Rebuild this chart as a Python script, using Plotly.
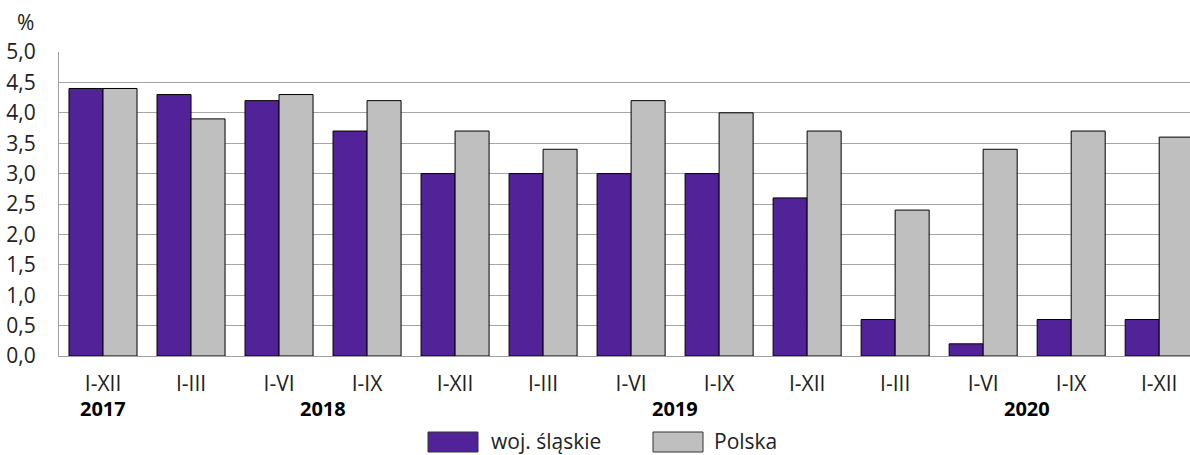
import plotly.graph_objects as go

periods = ["I-XII", "I-III", "I-VI", "I-IX", "I-XII", "I-III", "I-VI", "I-IX",
           "I-XII", "I-III", "I-VI", "I-IX", "I-XII"]
years = ["2017", "2018", "2019", "2020"]
year_pos = [0, 2.5, 6.5, 10.5]
slaskie = [4.4, 4.3, 4.2, 3.7, 3.0, 3.0, 3.0, 3.0, 2.6, 0.6, 0.2, 0.6, 0.6]
polska = [4.4, 3.9, 4.3, 4.2, 3.7, 3.4, 4.2, 4.0, 3.7, 2.4, 3.4, 3.7, 3.6]
series_names = ["woj. śląskie", "Polska"]
y_ticks = [0, 0.5, 1, 1.5, 2, 2.5, 3, 3.5, 4, 4.5, 5]

PURPLE = "#522398"
GRAY = "#bfbfbf"
FONT = "Open Sans"
FS = 21
x = list(range(len(periods)))

fig = go.Figure()
fig.add_trace(go.Bar(x=x, y=slaskie, name=series_names[0], marker=dict(color=PURPLE, line=dict(color="#000000", width=1))))
fig.add_trace(go.Bar(x=x, y=polska, name=series_names[1], marker=dict(color=GRAY, line=dict(color="#000000", width=1))))

W, H = 1190, 455
L, R, T, B = 59, 0, 52, 99
pw, ph = W - L - R, H - T - B

def px_x(p):
    return (p - L) / pw

def px_y(p):
    return (H - B - p) / ph

annotations = []
for yr, pos in zip(years, year_pos):
    annotations.append(dict(x=pos, y=px_y(408), xref="x", yref="paper", text="<b>%s</b>" % yr,
                            showarrow=False, xanchor="center", yanchor="middle",
                            font=dict(family=FONT, size=20, color="#000000")))
annotations.append(dict(x=px_x(25), y=px_y(22), xref="paper", yref="paper", text="%",
                        showarrow=False, xanchor="center", yanchor="middle",
                        font=dict(family=FONT, size=FS, color="#222222")))
shapes = []
legend_items = [(428, 478, 489, PURPLE, series_names[0]), (653, 703, 712, GRAY, series_names[1])]
for x0, x1, tx, col, name in legend_items:
    shapes.append(dict(type="rect", xref="paper", yref="paper", x0=px_x(x0), x1=px_x(x1),
                       y0=px_y(452), y1=px_y(432), fillcolor=col, line=dict(color="#333333", width=1)))
    annotations.append(dict(x=px_x(tx), y=px_y(441), xref="paper", yref="paper", text=name,
                            showarrow=False, xanchor="left", yanchor="middle",
                            font=dict(family=FONT, size=FS, color="#222222")))

fig.update_layout(
    width=W, height=H,
    margin=dict(l=L, r=R, t=T, b=B, pad=0),
    paper_bgcolor="white", plot_bgcolor="white",
    barmode="group", bargap=0.227, bargroupgap=0,
    showlegend=False,
    separators=", ",
    font=dict(family=FONT, size=FS, color="#222222"),
    xaxis=dict(range=[-0.5, 12.35], tickvals=x, ticktext=periods, showgrid=False,
               showline=True, linecolor="#a0a0a0", linewidth=1, ticks="", ticklabelstandoff=9,
               tickfont=dict(family=FONT, size=FS, color="#222222"),
               zeroline=False, fixedrange=True),
    yaxis=dict(range=[0, 5], tickvals=y_ticks, tickformat=".1f", showgrid=True,
               gridcolor="#a6a6a6", gridwidth=1, showline=True, linecolor="#a0a0a0",
               tickfont=dict(family=FONT, size=FS, color="#222222"),
               linewidth=1, ticks="", ticklabelstandoff=18, zeroline=False, fixedrange=True),
    annotations=annotations, shapes=shapes,
)

fig.write_html("out.html", config={"displayModeBar": False},
               post_script="document.body.style.margin='0';document.body.style.padding='0';")
